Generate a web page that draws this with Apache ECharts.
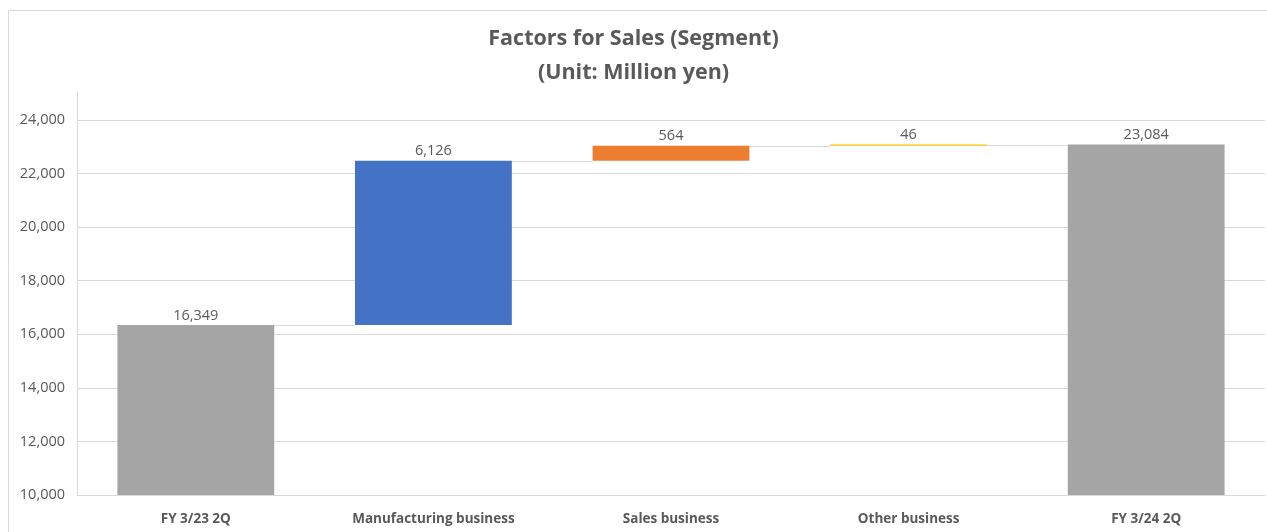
<!DOCTYPE html>
<html>
<head>
<meta charset="utf-8">
<script src="https://cdn.jsdelivr.net/npm/echarts@6/dist/echarts.min.js"></script>
<style>html,body{margin:0;padding:0;background:#fff;}#c{width:1267px;height:532px;}</style>
</head>
<body>
<div id="c"></div>
<script>
const categories = ['FY 3/23 2Q', 'Manufacturing business', 'Sales business', 'Other business', 'FY 3/24 2Q'];
const values = [16349, 6126, 564, 46, 23084];
const isTotal = [true, false, false, false, true];
const colors = ['#A5A5A5', '#4472C4', '#ED7D31', '#FFC000', '#A5A5A5'];
const yTicks = { min: 10000, max: 24000, interval: 2000 };

// waterfall bases and tops
const bases = [], tops = [];
let run = 0;
values.forEach((v, i) => {
  if (isTotal[i]) { bases.push(0); run = v; tops.push(v); }
  else { bases.push(run); run += v; tops.push(run); }
});
const connectors = tops.slice(0, -1).map((t, i) => [i, t]);

const FONT = 'Open Sans';
const TXT = '#595959';
const BAR_RATIO = 0.66;

const chart = echarts.init(document.getElementById('c'), null, { renderer: 'canvas' });
chart.setOption({
  animation: false,
  backgroundColor: '#fff',
  title: {
    text: 'Factors for Sales (Segment)\n(Unit: Million yen)',
    left: 'center', top: 17,
    textStyle: { fontFamily: FONT, fontWeight: 'bold', fontSize: 21.5, color: TXT, lineHeight: 34 }
  },
  graphic: [
    { type: 'rect', shape: { x: 8.5, y: 10.5, width: 1400, height: 700 }, style: { fill: 'none', stroke: '#d9d9d9', lineWidth: 1 }, silent: true },
    { type: 'line', shape: { x1: 77.5, y1: 92, x2: 77.5, y2: 495 }, style: { stroke: '#d9d9d9', lineWidth: 1 }, silent: true }
  ],
  grid: { left: 77, right: 2, top: 120, bottom: 37, containLabel: false },
  xAxis: {
    type: 'category', data: categories,
    axisLine: { show: true, lineStyle: { color: '#d9d9d9' } },
    axisTick: { show: false },
    axisLabel: { fontFamily: FONT, fontWeight: 'bold', fontSize: 13.5, color: TXT, margin: 17 }
  },
  yAxis: {
    type: 'value', min: yTicks.min, max: yTicks.max, interval: yTicks.interval,
    axisLine: { show: false }, axisTick: { show: false },
    splitLine: { lineStyle: { color: '#d9d9d9' } },
    axisLabel: { fontFamily: FONT, fontSize: 14.5, color: TXT, margin: 12,
      formatter: v => v.toLocaleString('en-US') }
  },
  series: [
    { type: 'bar', stack: 'w', data: bases, barWidth: (BAR_RATIO * 100) + '%',
      itemStyle: { color: 'transparent' }, silent: true },
    { type: 'bar', stack: 'w', barWidth: (BAR_RATIO * 100) + '%',
      data: values.map((v, i) => ({ value: v, itemStyle: { color: colors[i] } })),
      label: { show: true, position: 'top', distance: 2, fontFamily: FONT, fontSize: 14.5, color: TXT,
        formatter: p => values[p.dataIndex].toLocaleString('en-US') } },
    { type: 'custom', data: connectors, z: 1, silent: true,
      renderItem: (params, api) => {
        const p = api.coord([api.value(0), api.value(1)]);
        const w = api.size([1, 0])[0];
        const hb = w * BAR_RATIO / 2;
        return { type: 'line', shape: { x1: p[0] + hb, y1: Math.round(p[1]) + 0.5, x2: p[0] + w - hb, y2: Math.round(p[1]) + 0.5 },
          style: { stroke: '#d9d9d9', lineWidth: 1 } };
      } }
  ]
});
</script>
</body>
</html>
